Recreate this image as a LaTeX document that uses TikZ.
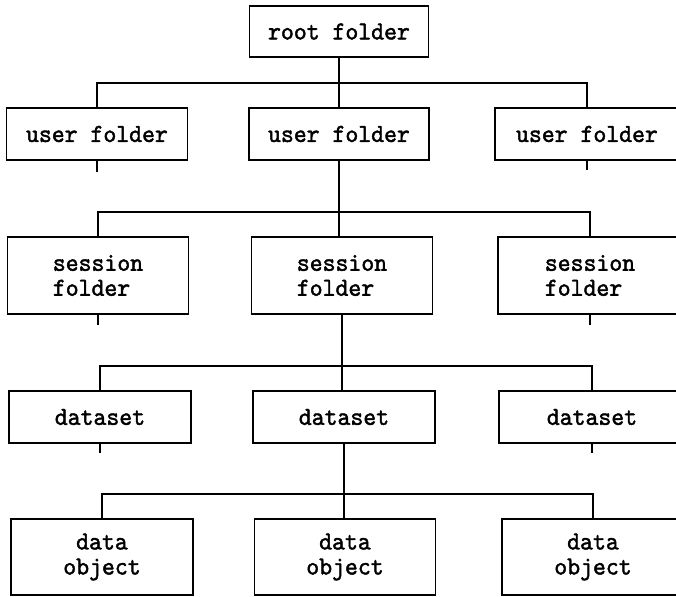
\documentclass[tikz,border=0pt]{standalone}
\usepackage{fontspec}
\newfontfamily\boxfont{lmmono10-regular}[Extension=.otf, FakeBold=1.6, FakeStretch=0.945]
\newcommand{\boxtext}{\boxfont\fontsize{26}{25}\selectfont}
\begin{document}
\begin{tikzpicture}[x=1pt, y=-1pt,
  box/.style={draw, line width=1.8pt, inner sep=0pt, outer sep=0pt,
    minimum width=181pt, minimum height=52pt, font=\boxtext},
  tallbox/.style={box, minimum height=77pt},
  conn/.style={line width=1.1pt},
  bus/.style={line width=1.5pt},
  stub/.style={line width=2pt}]
\useasboundingbox (0,0) rectangle (676,596);
\clip (0,0) rectangle (676,596);

% level 0
\node[box, minimum width=179pt, minimum height=51pt] (root) at (339,31.5) {root folder};

% level 1: user folders
\node[box] (u1) at (97,134) {user folder};
\node[box, minimum width=180pt] (u2) at (339,134) {user folder};
\node[box, minimum width=184pt] (u3) at (587,134) {user folder};

% level 2: session folders
\node[tallbox, align=left] (s1) at (98,275.5) {session\\folder};
\node[tallbox, align=left] (s2) at (342,275.5) {session\\folder};
\node[tallbox, align=left, minimum width=184pt] (s3) at (590,275.5) {session\\folder};

% level 3: datasets
\node[box, minimum width=182pt] (d1) at (100,417) {dataset};
\node[box, minimum width=182pt] (d2) at (344,417) {dataset};
\node[box, minimum width=186pt] (d3) at (592,417) {dataset};

% level 4: data objects
\node[tallbox, align=center, minimum height=76pt, minimum width=182pt] (o1) at (102,557) {data\\object};
\node[tallbox, align=center, minimum height=76pt] (o2) at (345,557) {data\\object};
\node[tallbox, align=center, minimum height=76pt, minimum width=182pt] (o3) at (593,557) {data\\object};

% root -> user folders
\draw[conn] (root.south) |- (u2.north);
\draw[bus, line width=2pt] (u1.north) -- ++(0,-25) -| (u3.north);
\draw[stub] (u1.south) -- ++(0,12);
\draw[stub] (u3.south) -- ++(0,10);

% user folder -> session folders
\draw[conn] (u2.south) |- (s2.north);
\draw[bus] (s1.north) -- ++(0,-25) -| (s3.north);
\draw[stub] (s1.south) -- ++(0,11);
\draw[stub] (s3.south) -- ++(0,11);

% session folder -> datasets
\draw[conn] (s2.south) |- (d2.north);
\draw[bus] (d1.north) -- ++(0,-25) -| (d3.north);
\draw[stub] (d1.south) -- ++(0,10);
\draw[stub] (d3.south) -- ++(0,10);

% dataset -> data objects
\draw[conn] (d2.south) |- (o2.north);
\draw[bus] (o1.north) -- ++(0,-25) -| (o3.north);
\end{tikzpicture}
\end{document}
